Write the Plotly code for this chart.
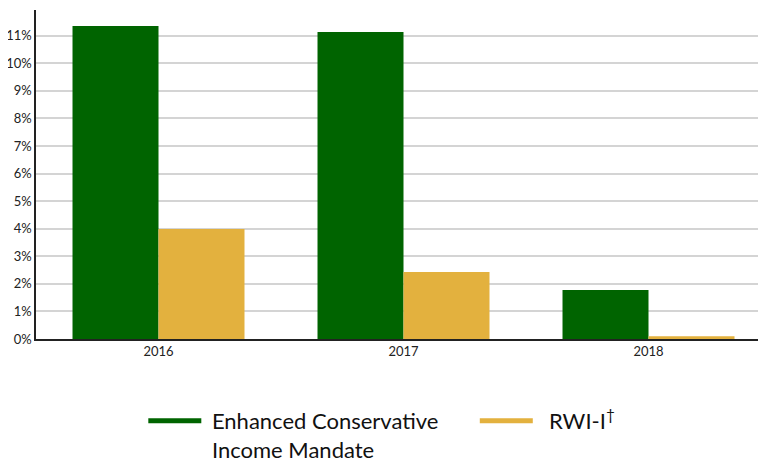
import plotly.graph_objects as go

years = ["2016", "2017", "2018"]
ecim = [0.1135, 0.1113, 0.0178]
rwi = [0.0399, 0.0243, 0.0010]
series_names = ["\u00a0Enhanced Conservative<br>\u00a0Income Mandate", "\u00a0\u00a0RWI-I<sup>†</sup>"]
colors = ["#006400", "#E3B13E"]
tick_vals = [i / 100 for i in range(12)]
tick_text = [f"{i}%" for i in range(12)]

fig = go.Figure()
for vals, name, c in zip([ecim, rwi], series_names, colors):
    fig.add_trace(go.Bar(x=years, y=vals, name=name, marker_color=c,
                         marker_line_width=0, showlegend=False))
for i, (name, c) in enumerate(zip(series_names, colors)):
    fig.add_trace(go.Scatter(x=[years[0]], y=[0], mode="lines", name=name,
                             line=dict(color=c, width=5),
                             legend="legend" if i == 0 else "legend2",
                             hoverinfo="skip"))

# page has an 8px body margin, so figure is drawn at (8, 8); the plot runs past the right edge
legend_common = dict(y=-0.185, yanchor="top", xanchor="left", valign="top",
                     font=dict(size=22, color="#111"), itemwidth=53,
                     bgcolor="rgba(0,0,0,0)")
fig.update_layout(
    width=763, height=453,
    margin=dict(l=28, r=0, t=2, b=122, autoexpand=False),
    plot_bgcolor="white", paper_bgcolor="white",
    barmode="group", bargap=0.298, bargroupgap=0,
    font=dict(family="Lato, Open Sans, sans-serif", color="#222"),
    legend=dict(x=0.146, **legend_common),
    legend2=dict(x=0.597, **legend_common),
)
fig.update_xaxes(showline=True, linecolor="#222", linewidth=1.5, automargin=False,
                 tickfont=dict(size=13), ticks="", showgrid=False)
fig.update_yaxes(range=[0, 0.1193], tickvals=tick_vals, ticktext=tick_text,
                 showline=True, linecolor="#222", linewidth=1.5, automargin=False,
                 gridcolor="#d4d4d4", gridwidth=1.5, tickfont=dict(size=13),
                 zeroline=False, ticks="")

fig.write_html("out.html")
